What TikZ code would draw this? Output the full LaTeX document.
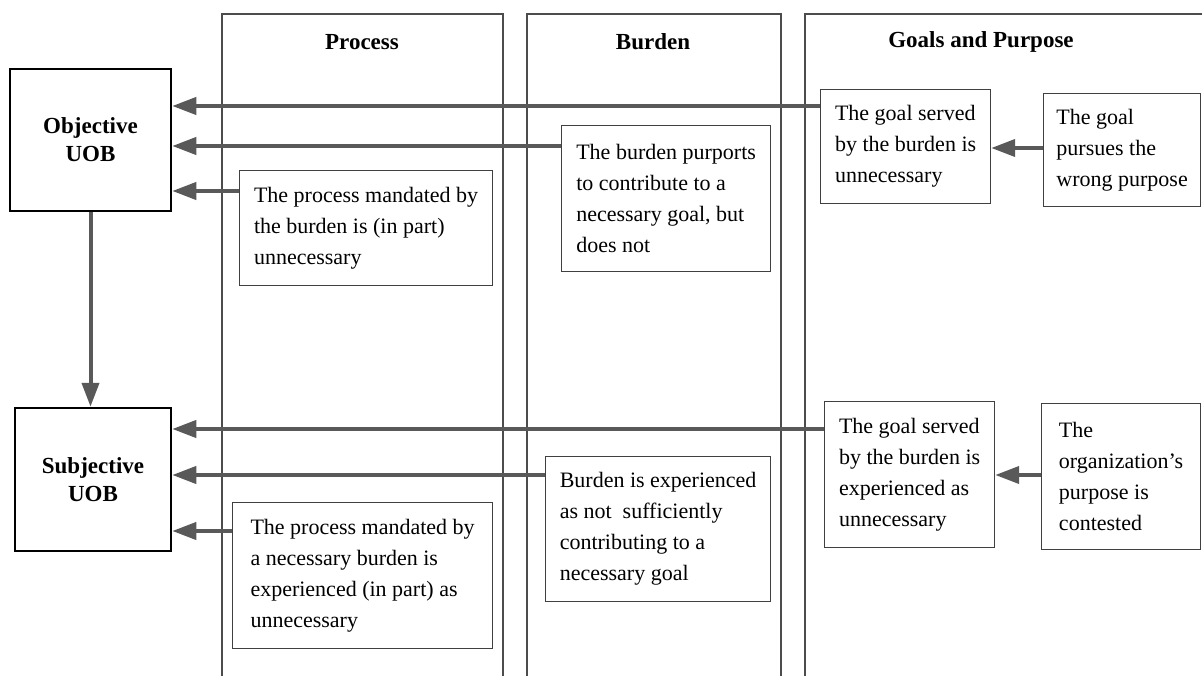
\documentclass[tikz,border=0pt]{standalone}
\usepackage{fontspec}
\setmainfont{Liberation Serif}
\usetikzlibrary{arrows.meta}

\begin{document}
\begin{tikzpicture}[x=1pt,y=-1pt,
  colline/.style={draw=black!70,line width=1.3pt},
  card/.style={draw=black!75,line width=1.2pt,anchor=north west,align=left,inner sep=0pt,font=\fontsize{22}{31}\selectfont},
  uob/.style={draw=black,line width=2.5pt,align=center,font=\fontsize{23}{28}\selectfont\bfseries},
  head/.style={font=\fontsize{23}{28}\selectfont\bfseries},
  arr/.style={draw=black!65,line width=4pt,-{Triangle[length=24pt,width=17pt]}}]
  \useasboundingbox (0,0) rectangle (1202,676);

  \draw[colline] (222,676) -- (222,14) -- (503,14) -- (503,676);
  \draw[colline] (527,676) -- (527,14) -- (781,14) -- (781,676);
  \draw[colline] (805,676) -- (805,14) -- (1202,14);

  \node[head] (procHead) at (362,42) {Process};
  \node[head] (burHead) at (653,42) {Burden};
  \node[head] (goalHead) at (981,42) {Goals and Purpose};

  \node[uob,minimum width=161pt,minimum height=142pt] (objBox) at (90.5,140) {Objective\\UOB};
  \node[uob,minimum width=156pt,minimum height=143pt] (subjBox) at (93,479.5) {Subjective\\UOB};

  \node[card,minimum width=253pt,minimum height=115pt] (procTop) at (239,170) {The process mandated by\\the burden is (in part)\\unnecessary};
  \node[card,minimum width=209pt,minimum height=146pt] (burTop) at (561,125) {The burden purports\\to contribute to a\\necessary goal, but\\does not};
  \node[card,minimum width=170pt,minimum height=114pt] (goalTop) at (820,89) {The goal served\\by the burden is\\unnecessary};
  \node[card,minimum width=157pt,minimum height=113pt] (purpTop) at (1043,93) {The goal\\pursues the\\wrong purpose};

  \node[card,minimum width=260pt,minimum height=146pt] (procBot) at (232,502) {The process mandated by\\a necessary burden is\\experienced (in part) as\\unnecessary};
  \node[card,minimum width=225pt,minimum height=145pt] (burBot) at (545,456) {Burden is experienced\\as not~ sufficiently\\contributing to a\\necessary goal};
  \node[card,minimum width=170pt,minimum height=146pt] (goalBot) at (824,401) {The goal served\\by the burden is\\experienced as\\unnecessary};
  \node[card,minimum width=159pt,minimum height=146pt] (purpBot) at (1041,403) {The\\organization’s\\purpose is\\contested};

  \draw[arr] ([yshift=-17pt]goalTop.north west) coordinate (o1) -- (o1 -| objBox.east);
  \draw[arr] ([yshift=-21pt]burTop.north west) coordinate (o2) -- (o2 -| objBox.east);
  \draw[arr] ([yshift=-21pt]procTop.north west) coordinate (o3) -- (o3 -| objBox.east);
  \draw[arr] ([yshift=-55pt]purpTop.north west) coordinate (o4) -- (o4 -| goalTop.east);
  \draw[arr] (objBox.south) -- (objBox.south |- subjBox.north);

  \draw[arr] ([yshift=-28pt]goalBot.north west) coordinate (s1) -- (s1 -| subjBox.east);
  \draw[arr] ([yshift=-19pt]burBot.north west) coordinate (s2) -- (s2 -| subjBox.east);
  \draw[arr] ([yshift=-29pt]procBot.north west) coordinate (s3) -- (s3 -| subjBox.east);
  \draw[arr] ([yshift=-72pt]purpBot.north west) coordinate (s4) -- (s4 -| goalBot.east);
\end{tikzpicture}
\end{document}
